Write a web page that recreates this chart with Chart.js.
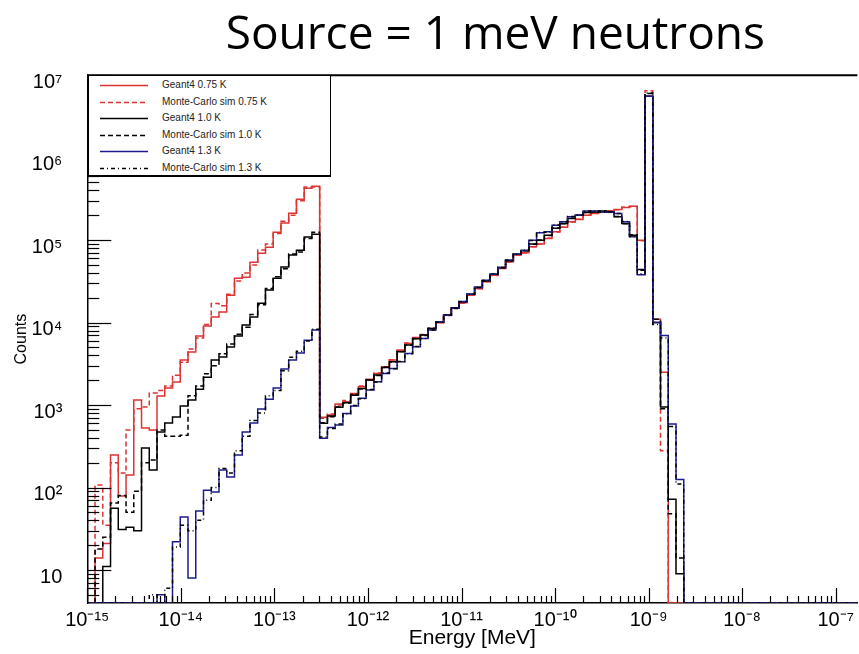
<!DOCTYPE html>
<html>
<head>
<meta charset="utf-8">
<title>Source = 1 meV neutrons</title>
<script src="https://cdn.jsdelivr.net/npm/chart.js@4.4.1/dist/chart.umd.min.js"></script>
<style>
  html, body { margin: 0; padding: 0; background: #fff; }
  #wrap { position: relative; width: 859px; height: 654px; overflow: hidden; }
  #legend {
    position: absolute; left: 88px; top: 75px; width: 241px; height: 99px;
    background: #fff; border: 1px solid #000; border-bottom-width: 2px;
    font-family: "Liberation Sans", Arial, sans-serif; font-size: 10px; color: #222;
  }
  #legend .row { position: absolute; left: 0; height: 16px; width: 100%; }
  #legend svg { position: absolute; left: 11px; top: 0; }
  #legend span { position: absolute; left: 73px; top: 2px; white-space: nowrap; }
</style>
</head>
<body>
<div id="wrap">
  <canvas id="spectrum" width="859" height="654"></canvas>
  <div id="legend"></div>
</div>
<script>
// histogram binning (log10 of MeV)
const binLowEdge = -15;
const binWidth = 0.0828;
const nBins = 100;

// axis ranges
const xMin = 1e-15;
const xMax = 1.704e-7;
const yMin = 3.98;
const yMax = 1e7;

const seriesNames = [
  'Geant4 0.75 K', 'Monte-Carlo sim 0.75 K',
  'Geant4 1.0 K', 'Monte-Carlo sim 1.0 K',
  'Geant4 1.3 K', 'Monte-Carlo sim 1.3 K'
];

// counts per bin, bins 0..77 (higher bins are empty)
const g4_075 = [0, 14, 21, 248, 79, 142, 1150, 526, 498, 1285, 1607, 1900, 3510, 4390, 6860, 9070, 11700, 13400, 21500, 34600,
  35600, 54100, 69500, 82200, 125000, 161000, 212000, 314000, 427000, 451000,
  710, 757, 1030, 1100, 1380, 1670, 2050, 2420, 2910, 3510, 4640, 5590, 6610, 7050, 8490, 9950, 12300, 14900, 17400, 21500,
  25900, 31200, 37600, 45300, 54600, 65800, 70200, 82900, 89500, 105000, 126000, 143000, 167000, 178000, 201000, 211000,
  220000, 226000, 235000, 249000, 258000, 100000,
  5560000, 11000, 2500, 0, 0, 0];

const mc_075 = [0, 107, 35, 200, 150, 500, 900, 950, 1400, 1500, 1700, 2300, 3300, 4800, 6500, 9500, 17000, 16000, 22000, 32000,
  40000, 50000, 76000, 90000, 120000, 170000, 200000, 300000, 440000, 440000,
  690, 780, 1000, 1140, 1350, 1700, 2000, 2450, 2850, 3550, 4550, 5650, 6500, 7150, 8400, 10000, 12200, 15000, 17200, 21700,
  25700, 31500, 37300, 45600, 54200, 66200, 69800, 83400, 89000, 105500, 125500, 143500, 166000, 179000, 200000, 212000,
  219000, 227000, 234000, 250000, 256000, 98000,
  6500000, 10000, 280, 0, 0, 0];

const g4_10 = [0, 0, 11, 56, 31, 33, 30, 301, 163, 471, 605, 716, 973, 1150, 1560, 2180, 3510, 3820, 5050, 6860,
  9330, 11700, 17200, 24800, 34600, 47100, 65800, 75600, 109000, 118000,
  600, 736, 938, 1070, 1320, 1590, 2010, 2310, 2860, 3350, 4430, 5340, 6360, 7050, 8490, 10200, 12300, 15100, 17900, 22100,
  26700, 32100, 38700, 46700, 56100, 67600, 74100, 89500, 100000, 115000, 139000, 159000, 183000, 201000, 216000, 220000,
  225000, 220000, 192000, 159000, 115000, 44000,
  5560000, 10000, 950, 72, 9, 0];

const mc_10 = [0, 18, 25, 65, 80, 50, 90, 200, 215, 500, 420, 420, 430, 1300, 1700, 2400, 3000, 4200, 5500, 7200,
  8800, 12500, 16500, 26000, 36000, 45000, 68000, 72000, 105000, 125000,
  610, 720, 950, 1060, 1340, 1570, 2030, 2290, 2880, 3320, 4460, 5300, 6400, 7000, 8550, 10100, 12400, 15000, 18000, 22000,
  26900, 31900, 38900, 46400, 56400, 67200, 74500, 89000, 100500, 114000, 140000, 158000, 184000, 200000, 217000, 219000,
  226000, 219000, 193000, 158000, 116000, 43000,
  6000000, 11000, 900, 48, 14, 0];

const g4_13 = [0, 0, 0, 0, 0, 0, 0, 0, 0, 5, 0, 22, 44, 8, 52, 93, 88, 163, 134, 248,
  471, 605, 895, 1180, 1610, 2730, 3510, 4270, 6130, 8110,
  395, 536, 572, 793, 973, 1210, 1520, 1920, 2420, 2780, 3350, 4230, 5090, 6430, 8110, 10200, 12300, 14900, 17900, 22100,
  26700, 32700, 38700, 46700, 57300, 67600, 75600, 100000, 123000, 126000, 152000, 167000, 192000, 201000, 225000, 226000,
  220000, 220000, 211000, 167000, 110000, 38000,
  5560000, 10000, 7000, 590, 125, 0];

const mc_13 = [0, 0, 0, 0, 0, 0, 0, 0, 5, 0, 6, 19, 35, 30, 40, 70, 100, 170, 150, 280,
  420, 650, 800, 1300, 1500, 2600, 3800, 4500, 6000, 8300,
  410, 520, 590, 780, 990, 1190, 1540, 1900, 2440, 2760, 3380, 4200, 5120, 6400, 8150, 10100, 12400, 14800, 18000, 22000,
  26800, 32500, 38900, 46500, 57000, 67900, 75300, 99000, 124000, 125000, 153000, 166000, 193000, 200000, 224000, 227000,
  219000, 221000, 210000, 168000, 111000, 39000,
  6100000, 9500, 6500, 550, 110, 0];

const allCounts = [g4_075, mc_075, g4_10, mc_10, g4_13, mc_13];
const colors = ['#dd3333', '#dd3333', '#000000', '#000000', '#1c1c8c', '#000000'];
const dashes = [[], [5, 3], [], [5, 3], [], [4, 3, 1, 3]];

function binEdge(i) {
  return Math.pow(10, binLowEdge + i * binWidth);
}

// histogram -> step points, empty bins sit on the frame like ROOT does
function histPoints(counts) {
  const pts = [];
  for (let i = 0; i < nBins; i++) {
    const c = counts[i] || 0;
    pts.push({ x: binEdge(i), y: Math.max(c, yMin) });
  }
  pts.push({ x: binEdge(nBins), y: yMin });
  return pts;
}

const supMap = { '-': '\u207B', '0': '\u2070', '1': '\u00B9', '2': '\u00B2', '3': '\u00B3',
  '4': '\u2074', '5': '\u2075', '6': '\u2076', '7': '\u2077', '8': '\u2078', '9': '\u2079' };

function powLabel(e) {
  if (e === 1) return '10';
  return '10' + String(e).split('').map(ch => supMap[ch]).join('');
}

function decadeTicks(lo, hi) {
  return function (scale) {
    const ticks = [];
    for (let e = lo; e <= hi; e++) {
      for (let m = 1; m <= 9; m++) {
        const v = m * Math.pow(10, e);
        if (v < scale.min * 0.999 || v > scale.max * 1.001) continue;
        ticks.push({ value: v, decade: m === 1, exp: e });
      }
    }
    scale.ticks = ticks;
  };
}

function tickLabel(value, index, ticks) {
  const t = ticks[index];
  return t.decade ? powLabel(t.exp) : '';
}

// ROOT style: ticks inside the frame, top frame line
const rootFrame = {
  id: 'rootFrame',
  afterDatasetsDraw(chart) {
    const { ctx, chartArea: a, scales: { x, y } } = chart;
    ctx.save();
    ctx.strokeStyle = '#000';
    ctx.lineWidth = 1.2;
    x.ticks.forEach(t => {
      const px = Math.round(x.getPixelForValue(t.value)) + 0.5;
      if (px < a.left || px > a.right) return;
      const len = t.decade ? 15 : 7;
      ctx.beginPath();
      ctx.moveTo(px, a.bottom);
      ctx.lineTo(px, a.bottom - len);
      ctx.stroke();
    });
    y.ticks.forEach(t => {
      const py = Math.round(y.getPixelForValue(t.value)) + 0.5;
      if (py < a.top || py > a.bottom) return;
      const len = t.decade ? 24 : 12;
      ctx.beginPath();
      ctx.moveTo(a.left, py);
      ctx.lineTo(a.left + len, py);
      ctx.stroke();
    });
    ctx.lineWidth = 2;
    ctx.beginPath();
    ctx.moveTo(a.left, a.top);
    ctx.lineTo(a.right, a.top);
    ctx.stroke();
    ctx.restore();
  }
};

// title in ROOT sits a bit right of the frame centre
const titleShift = {
  id: 'titleShift',
  afterLayout(chart) {
    chart.titleBlock.left += 46;
  }
};

Chart.defaults.font.family = '"Liberation Sans", Arial, sans-serif';
Chart.defaults.color = '#000';

const datasets = allCounts.map((counts, i) => ({
  label: seriesNames[i],
  data: histPoints(counts),
  borderColor: colors[i],
  borderWidth: 1.5,
  borderDash: dashes[i],
  pointRadius: 0,
  stepped: 'before',
  fill: false,
  tension: 0,
  order: allCounts.length - i
}));

new Chart(document.getElementById('spectrum'), {
  type: 'line',
  data: { datasets: datasets },
  options: {
    responsive: false,
    animation: false,
    events: [],
    layout: { padding: 0 },
    plugins: {
      legend: { display: false },
      tooltip: { enabled: false },
      title: {
        display: true,
        text: 'Source = 1 meV neutrons',
        fullSize: false,
        color: '#000',
        font: { family: '"Open Sans", sans-serif', size: 46, weight: 'normal', lineHeight: 1.2 },
        padding: { top: 8, bottom: 12 }
      }
    },
    scales: {
      x: {
        type: 'logarithmic',
        min: xMin,
        max: xMax,
        grid: { display: false, drawTicks: false },
        border: { display: true, color: '#000', width: 1.5 },
        afterBuildTicks: decadeTicks(-15, -6),
        afterFit: scale => { scale.height = 51; },
        ticks: {
          autoSkip: false, minRotation: 0, maxRotation: 0, padding: 5,
          font: { size: 20 },
          callback: tickLabel
        },
        title: {
          display: true, text: 'Energy [MeV]',
          font: { size: 21 },
          padding: { top: 0, bottom: 3 }
        }
      },
      y: {
        type: 'logarithmic',
        min: yMin,
        max: yMax,
        grid: { display: false, drawTicks: false },
        border: { display: true, color: '#000', width: 1.5 },
        afterBuildTicks: decadeTicks(0, 7),
        afterFit: scale => { scale.width = 87.3; },
        ticks: {
          autoSkip: false, padding: 25, labelOffset: 7,
          font: { size: 20 },
          callback: tickLabel
        },
        title: {
          display: true, text: 'Counts',
          font: { size: 16 },
          padding: { top: 12, bottom: 0 }
        }
      }
    }
  },
  plugins: [rootFrame, titleShift]
});

// legend box, top left inside the frame
const legendBox = document.getElementById('legend');
datasets.forEach((ds, i) => {
  const row = document.createElement('div');
  row.className = 'row';
  row.style.top = (1 + i * 16.6) + 'px';
  const dash = ds.borderDash.length ? ' stroke-dasharray="' + ds.borderDash.join(' ') + '"' : '';
  row.innerHTML =
    '<svg width="48" height="16"><line x1="0" y1="8.5" x2="48" y2="8.5" stroke="' + ds.borderColor +
    '" stroke-width="1.5"' + dash + '/></svg><span>' + ds.label + '</span>';
  legendBox.appendChild(row);
});
</script>
</body>
</html>
